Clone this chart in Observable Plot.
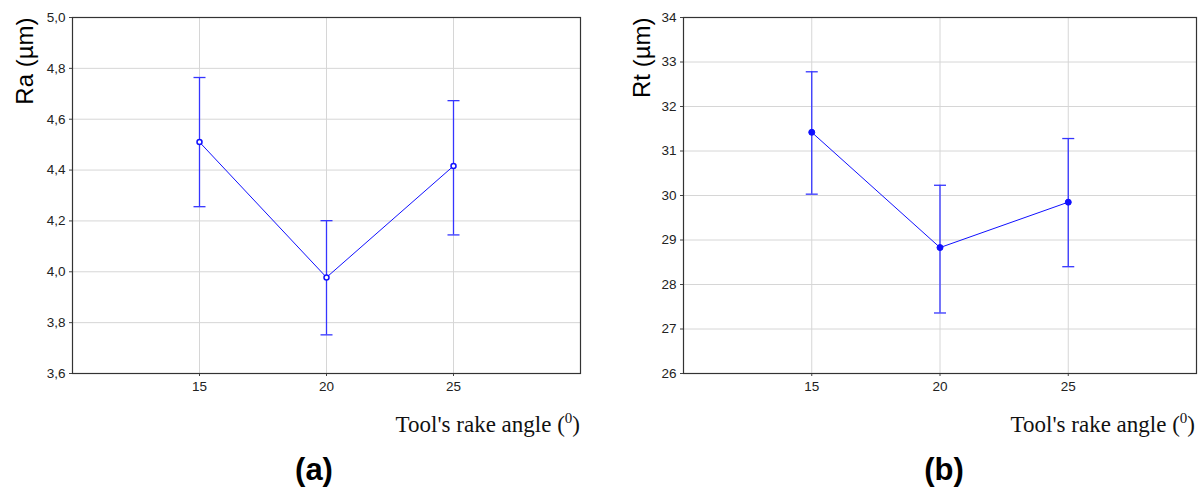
<!DOCTYPE html>
<html>
<head>
<meta charset="utf-8">
<script src="https://cdn.jsdelivr.net/npm/d3@7"></script>
<script src="https://cdn.jsdelivr.net/npm/@observablehq/plot@0.6"></script>
<style>
  html, body { margin: 0; padding: 0; background: #fff; }
  #wrap { position: relative; width: 1198px; height: 491px; overflow: hidden; }
  .panel { position: absolute; top: 0; }
  .xlab { position: absolute; font-family: "Times New Roman", "Liberation Serif", serif; font-size: 23px; color: #111; white-space: nowrap; line-height: 1; }
  .xlab sup { font-size: 15px; vertical-align: 0; position: relative; top: -9px; }
  .tag { position: absolute; font-family: Arial, "Liberation Sans", sans-serif; font-weight: bold; font-size: 31px; color: #000; line-height: 1; transform: translateX(-50%); }
</style>
</head>
<body>
<div id="wrap"></div>
<script>
// ---- data ----
const angles = [15, 20, 25];
const raMean = [4.51, 3.978, 4.416];
const raLow  = [4.256, 3.752, 4.145];
const raHigh = [4.764, 4.201, 4.673];
const rtMean = [31.42, 28.83, 29.85];
const rtLow  = [30.03, 27.36, 28.40];
const rtHigh = [32.78, 30.23, 31.28];
const xTicks = [15, 20, 25];
const raTicks = [3.6, 3.8, 4.0, 4.2, 4.4, 4.6, 4.8, 5.0];
const rtTicks = [26, 27, 28, 29, 30, 31, 32, 33, 34];
const raLabel = "Ra (µm)";
const rtLabel = "Rt (µm)";

const wrap = document.getElementById("wrap");
const cap = { draw(ctx) { ctx.moveTo(-6, 0); ctx.lineTo(6, 0); } };
const lineColor = "#1010ff";
const barColor = "#3535ff";

function panel(mean, low, high, yDomain, yTicks, fmt, ylabel, opts) {
  const rows = angles.map((a, i) => ({ x: a, m: mean[i], lo: low[i], hi: high[i] }));
  const chart = Plot.plot({
    width: opts.width,
    height: 400,
    marginTop: 17,
    marginBottom: 27,
    marginLeft: opts.ml,
    marginRight: opts.mr,
    style: { fontFamily: "Arial, 'Liberation Sans', sans-serif", fontSize: "13px", color: "#222", background: "white" },
    x: { domain: [10, 30] },
    y: { domain: yDomain },
    marks: [
      Plot.gridY(yTicks, { stroke: "#d6d6d6", strokeOpacity: 1 }),
      Plot.gridX(xTicks, { stroke: "#d6d6d6", strokeOpacity: 1 }),
      Plot.axisY(yTicks, { tickSize: 3, tickPadding: 4, tickFormat: fmt, label: null, stroke: "#444", fontSize: 13.5 }),
      Plot.axisX(xTicks, { tickSize: 3, tickPadding: 5, label: null, stroke: "#444", fontSize: 13.5 }),
      Plot.frame({ stroke: "#333", strokeWidth: 1.2 }),
      Plot.ruleX(rows, { x: "x", y1: "lo", y2: "hi", stroke: barColor, strokeWidth: 1.3 }),
      Plot.dot(rows, { x: "x", y: "lo", symbol: cap, stroke: barColor, strokeWidth: 1.3, fill: "none", r: 6 }),
      Plot.dot(rows, { x: "x", y: "hi", symbol: cap, stroke: barColor, strokeWidth: 1.3, fill: "none", r: 6 }),
      Plot.line(rows, { x: "x", y: "m", stroke: lineColor, strokeWidth: 1 }),
      Plot.dot(rows, opts.filled
        ? { x: "x", y: "m", r: 3, fill: lineColor, stroke: lineColor, strokeWidth: 1 }
        : { x: "x", y: "m", r: 2.5, fill: "white", stroke: lineColor, strokeWidth: 1.5 }),
      Plot.text([ylabel], { frameAnchor: "top-left", text: d => d, rotate: -90, textAnchor: "end", lineAnchor: "middle", dx: opts.ldx, fontSize: 24, fill: "#000" })
    ]
  });
  chart.classList.add("panel");
  chart.style.left = opts.left + "px";
  wrap.appendChild(chart);
}

panel(raMean, raLow, raHigh, [3.6, 5.0], raTicks, d => d.toFixed(1).replace(".", ","), raLabel,
  { width: 590, ml: 72, mr: 10, left: 0, ldx: -47, filled: false });
panel(rtMean, rtLow, rtHigh, [26, 34], rtTicks, d => String(d), rtLabel,
  { width: 598, ml: 83, mr: 2, left: 600, ldx: -41, filled: true });

function addXLabel(right) {
  const d = document.createElement("div");
  d.className = "xlab";
  d.innerHTML = "Tool's rake angle (<sup>0</sup>)";
  d.style.right = (1198 - right) + "px";
  d.style.top = "413px";
  wrap.appendChild(d);
}
addXLabel(580);
addXLabel(1195);

function addTag(txt, cx) {
  const d = document.createElement("div");
  d.className = "tag";
  d.textContent = txt;
  d.style.left = cx + "px";
  d.style.top = "454px";
  wrap.appendChild(d);
}
addTag("(a)", 314);
addTag("(b)", 944);
</script>
</body>
</html>
